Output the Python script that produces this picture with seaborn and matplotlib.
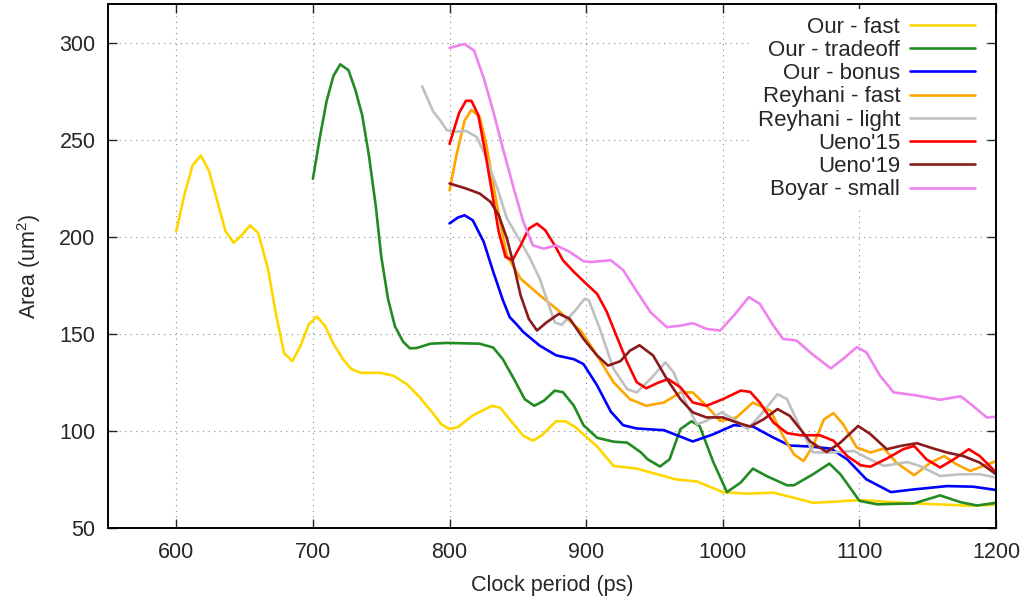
import pandas as pd
import matplotlib
matplotlib.use("Agg")
import matplotlib.pyplot as plt
import seaborn as sns

# Series (clock period ps -> area um^2)
fast_x = [600, 606, 612, 618, 624, 636, 642, 648, 654, 660, 667, 673, 679, 685, 691, 697, 703, 709, 715, 722,
          728, 735, 749, 759, 769, 778, 788, 794, 800, 806, 817, 831, 837, 844, 854, 861, 867, 878, 885, 892,
          900, 908, 920, 937, 952, 966, 981, 1000, 1018, 1037, 1052, 1066, 1080, 1100, 1120, 1140, 1164, 1180, 1200]
fast_y = [203, 222, 237, 242, 234, 203, 197, 201, 206, 202, 184, 160, 140, 136, 144, 155, 159, 154, 145, 137,
          132, 130, 130, 128.5, 124, 117.5, 109, 103.5, 101, 102, 108, 113, 112, 106, 97.5, 95, 97.5, 105, 105, 102,
          97, 92, 82, 80.6, 77.7, 75, 74, 68.5, 67.7, 68.2, 65.6, 63, 63.5, 64.4, 63.5, 62.7, 62, 61.5, 62]

tradeoff_x = [700, 705, 710, 715, 720, 726, 731, 736, 741, 746, 750, 755, 760, 766, 771, 776, 786, 798, 822, 832,
              839, 847, 855, 862, 869, 877, 883, 891, 898, 908, 920, 930, 940, 945, 954, 961, 969, 977, 983, 993,
              1003, 1013, 1022, 1032, 1047, 1052, 1066, 1078, 1086, 1100, 1113, 1140, 1159, 1174, 1186, 1200]
tradeoff_y = [230, 251, 270, 283, 289, 286, 276, 263, 242, 216, 190, 168, 154, 146, 142.6, 142.8, 145, 145.4, 145, 143,
              137, 127, 116.4, 113, 115.6, 120.8, 120, 113, 103, 96.5, 94.5, 94, 89, 85.4, 81.7, 85.4, 101, 105, 102.6, 84,
              68.5, 73.4, 80.6, 76.8, 72, 72, 77.7, 83.2, 77.7, 64, 62.2, 62.7, 66.8, 63.3, 61.6, 63]

bonus_x = [800, 806, 811, 817, 825, 832, 839, 844, 849, 854, 866, 878, 891, 898, 908, 918, 927, 937, 957, 978,
           993, 1008, 1022, 1037, 1049, 1064, 1079, 1091, 1105, 1123, 1140, 1164, 1183, 1200]
bonus_y = [207, 210, 211.2, 208.6, 197.5, 182, 167.5, 158.7, 155, 151, 144, 139, 137, 134.5, 123.5, 110, 103, 101.3, 100.4, 94.6,
           98.3, 103, 102.3, 96.6, 92.5, 92, 90.9, 85.4, 75.1, 68.5, 69.9, 71.6, 71.3, 69.6]

reyfast_x = [800, 805, 808, 811, 816, 822, 827, 832, 837, 842, 852, 866, 881, 893, 896, 908, 920, 932, 944, 957,
             969, 978, 988, 998, 1010, 1022, 1035, 1044, 1052, 1059, 1066, 1074, 1081, 1088, 1098, 1108, 1118, 1127,
             1140, 1152, 1162, 1171, 1181, 1200]
reyfast_y = [224, 242, 251, 260, 265.5, 262, 247.4, 226.7, 208, 190.5, 178.5, 170, 161.3, 153.5, 151.8, 138.9, 125.1, 116.4, 113, 114.7,
             119.9, 119.9, 113, 105.2, 107, 114.7, 110.4, 97.5, 88, 84.5, 92.3, 106, 109.2, 103.5, 91.5, 88.9, 91, 83.7,
             77.2, 83.7, 87.1, 82.8, 79.4, 84.5]

reylight_x = [780, 788, 793, 798, 805, 812, 820, 827, 835, 842, 852, 859, 866, 871, 877, 882, 891, 899, 902, 910,
              920, 930, 937, 947, 958, 964, 974, 981, 988, 999, 1008, 1018, 1027, 1040, 1047, 1057, 1066, 1079, 1096,
              1105, 1118, 1135, 1144, 1159, 1174, 1188, 1200]
reylight_y = [277.6, 264.7, 260.3, 255, 254.3, 254.7, 251.5, 240.6, 225, 209.5, 197.5, 188.8, 178.5, 168.2, 156, 154.7, 161.3, 168.2, 167.3, 152.6,
              132, 121.6, 119.9, 126.8, 135.4, 130.2, 113, 103.5, 105.2, 109.6, 106.1, 101, 107.8, 119, 116.4, 101, 89, 88.9, 89.7,
              86.3, 82, 84, 82, 76.8, 77.7, 77.7, 76]

ueno15_x = [800, 807, 812, 816, 821, 826, 831, 836, 841, 846, 852, 858, 864, 870, 877, 883, 891, 900, 908, 915,
            922, 930, 937, 944, 952, 960, 969, 978, 988, 1000, 1013, 1020, 1027, 1037, 1047, 1057, 1071, 1081, 1091,
            1101, 1108, 1120, 1132, 1140, 1149, 1159, 1169, 1180, 1188, 1200]
ueno15_y = [248, 264, 270.2, 270.2, 262.9, 244, 223.3, 202.6, 189.7, 188, 195.7, 204.3, 206.9, 203.5, 195.7, 188, 182, 175.9, 170.7, 161.5,
            149.3, 135.4, 125.1, 122, 124.7, 126.8, 122.5, 114.7, 113, 116.4, 120.8, 120.2, 114.7, 104.4, 98.9, 97.8, 97.8, 95, 87.1,
            82.3, 81.6, 85.8, 90.6, 92.3, 85.4, 81.2, 85.4, 90.6, 87.1, 78.6]

ueno19_x = [800, 812, 822, 830, 836, 842, 847, 852, 858, 864, 871, 880, 888, 898, 908, 916, 925, 932, 939, 949,
            959, 969, 978, 988, 1000, 1010, 1020, 1030, 1040, 1049, 1064, 1076, 1086, 1099, 1108, 1120, 1130, 1142,
            1154, 1164, 1176, 1188, 1200]
ueno19_y = [227.6, 225, 222.4, 218.1, 211.2, 199.2, 185.4, 169.9, 157.8, 151.8, 156, 160.4, 157.8, 147.5, 138.9, 133.7, 136, 141.4, 144.2, 138.9,
            126.8, 116.4, 109.6, 107, 107, 104.4, 102.3, 106.1, 111.3, 107.8, 94.5, 89.2, 94, 102.6, 98.4, 90.6, 92.3, 93.7,
            91, 88.9, 87.1, 83.7, 77.7]

boyar_x = [800, 811, 818, 825, 832, 839, 847, 854, 861, 869, 878, 888, 898, 903, 918, 927, 937, 947, 959, 969,
           978, 988, 998, 1008, 1019, 1027, 1037, 1044, 1054, 1066, 1079, 1088, 1098, 1105, 1115, 1125, 1140, 1159,
           1174, 1183, 1193, 1200]
boyar_y = [297.5, 299.5, 296, 282, 264.7, 245.7, 225, 207.8, 195.7, 194, 195.7, 192.3, 187.5, 187.1, 188, 183, 172, 161.3, 153.5, 154.3,
           155.6, 152.6, 151.8, 159.5, 169, 165.6, 154.3, 147.5, 146.6, 139.3, 132.3, 137.1, 143.2, 140.6, 128.5, 119.9, 118.5, 116.1,
           117.9, 113, 107, 107.3]

names = ["Our - fast", "Our - tradeoff", "Our - bonus", "Reyhani - fast",
         "Reyhani - light", "Ueno'15", "Ueno'19", "Boyar - small"]
xs = [fast_x, tradeoff_x, bonus_x, reyfast_x, reylight_x, ueno15_x, ueno19_x, boyar_x]
ys = [fast_y, tradeoff_y, bonus_y, reyfast_y, reylight_y, ueno15_y, ueno19_y, boyar_y]
colors = ["#ffd700", "#228b22", "#0000ff", "#ffa500", "#c0c0c0", "#ff0000", "#8b1a1a", "#ee82ee"]

rows = []
for n, xv, yv in zip(names, xs, ys):
    for a, b in zip(xv, yv):
        rows.append({"period": a, "area": b, "design": n})
df = pd.DataFrame(rows)

sns.set_theme(style="ticks")
plt.rcParams["font.family"] = ["Liberation Sans", "DejaVu Sans"]
plt.rcParams["mathtext.default"] = "regular"

fig = plt.figure(figsize=(10.28, 6.0), dpi=100)
ax = fig.add_axes([0.105, 0.12, 0.864, 0.873])

sns.lineplot(data=df, x="period", y="area", hue="design", hue_order=names,
             palette=dict(zip(names, colors)), sort=False, estimator=None,
             linewidth=1.9, ax=ax)

ax.set_xlim(550, 1200)
ax.set_ylim(50, 320)
ax.set_xticks([600, 700, 800, 900, 1000, 1100, 1200])
ax.set_yticks([50, 100, 150, 200, 250, 300])
ax.grid(True, linestyle=(0, (1, 4)), color="#888888", linewidth=0.8)
ax.tick_params(direction="in", length=6.5, width=1, labelsize=15.5, top=True, right=True)
ax.tick_params(axis="x", pad=10)
ax.tick_params(axis="y", pad=9)
for s in ax.spines.values():
    s.set_linewidth(1.4)
    s.set_color("black")

ax.set_xlabel("Clock period (ps)", fontsize=15.5, labelpad=9)
ax.set_ylabel("Area (um$^{2}$)", fontsize=15.5, labelpad=12)

handles, labels = ax.get_legend_handles_labels()
leg = ax.legend(handles, labels, loc="upper right", bbox_to_anchor=(0.997, 1.012),
                markerfirst=False, frameon=True, fontsize=16, handlelength=2.9,
                labelspacing=0.1, handletextpad=0.45, borderpad=0.35)
leg.get_frame().set_facecolor("white")
leg.get_frame().set_edgecolor("none")
leg.get_frame().set_alpha(1)

fig.savefig("out.png", dpi=100)
